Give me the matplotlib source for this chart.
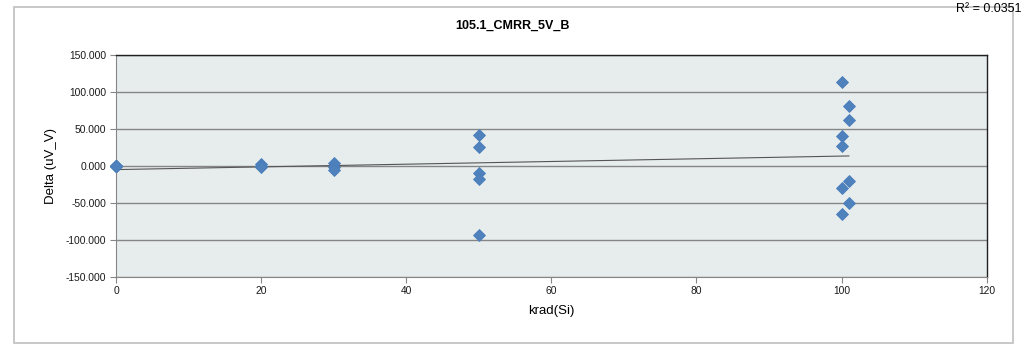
import matplotlib
matplotlib.use("Agg")
import matplotlib.pyplot as plt
import numpy as np
from matplotlib.patches import Rectangle
from matplotlib.ticker import FormatStrFormatter, MultipleLocator

# Dose (krad(Si)) and delta (uV_V).
# Several control units sit on top of each other at (0, 0).
dose = [0, 0, 0, 0, 0, 0, 0,
        20, 20, 20,
        30, 30, 30,
        50, 50, 50, 50, 50,
        100, 100, 100, 100, 100,
        101, 101, 101, 101]
delta = [0.0, 0.0, 0.0, 0.0, 0.0, 0.0, 0.0,
         3.0, 0.0, -2.0,
         4.0, -1.0, -5.0,
         42.0, 25.0, -10.0, -18.0, -93.0,
         113.0, 40.0, 26.5, -29.7, -65.8,
         80.5, 62.5, -20.0, -50.4]

TITLE = "105.1_CMRR_5V_B"
R2_TEXT = "R² = 0.0351"

W, H = 1026, 344
FONT = ["Liberation Sans", "DejaVu Sans"]
plt.rcParams["font.family"] = FONT

fig = plt.figure(figsize=(W / 100, H / 100), dpi=100)
fig.patch.set_facecolor("white")

# outer chart frame
fig.patches.append(Rectangle((14 / W, 0.002), (1013 - 14) / W, (H - 7) / H - 0.002,
                             transform=fig.transFigure, fill=False,
                             edgecolor="#BFBFBF", lw=1.2))

ax = fig.add_axes([116 / W, 1 - 276.7 / H, (986.7 - 116) / W, (276.7 - 55) / H])
ax.set_facecolor("#E7EDED")

x = np.array(dose, dtype=float)
y = np.array(delta, dtype=float)
slope, icpt = np.polyfit(x, y, 1)
xt = np.linspace(x.min(), x.max(), 50)
ax.plot(xt, slope * xt + icpt, color="#555555", lw=0.8, zorder=2)

ax.plot(x, y, linestyle="none", marker="D", ms=6.2, color="#4F81BD",
        mec="#4A7EBB", mew=0.6, zorder=3, clip_on=False)

ax.set_xlim(0, 120)
ax.set_ylim(-150, 150)
ax.xaxis.set_major_locator(MultipleLocator(20))
ax.yaxis.set_major_locator(MultipleLocator(50))
ax.yaxis.set_major_formatter(FormatStrFormatter("%.3f"))
ax.grid(axis="y", color="#868686", lw=1.0)
ax.set_axisbelow(True)

for side in ("left", "bottom"):
    ax.spines[side].set_color("#868686")
for side in ("top", "right"):
    ax.spines[side].set_color("#202020")
    ax.spines[side].set_linewidth(1.0)

ax.tick_params(axis="both", direction="out", length=4, width=0.8,
               color="#868686", labelsize=7.4, labelcolor="#1A1A1A", pad=3)
ax.set_xlabel("krad(Si)", fontsize=9.5, labelpad=6)
ax.set_ylabel("Delta (uV_V)", fontsize=9.5, labelpad=6)

fig.text(513 / W, 1 - 26 / H, TITLE, ha="center", va="center",
         fontsize=9, fontweight="bold")
fig.text(1022 / W, 1 - 9 / H, R2_TEXT, ha="right", va="center", fontsize=9)

fig.savefig("out.png", dpi=100)
